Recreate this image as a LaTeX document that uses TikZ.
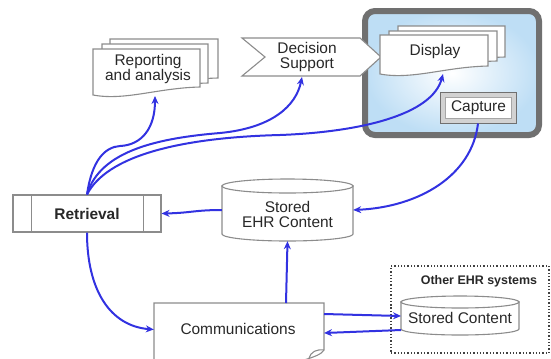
\documentclass[tikz,border=0pt]{standalone}
\usepackage{fontspec}
\setmainfont{Liberation Sans}
\usetikzlibrary{arrows.meta,calc}
\definecolor{flow}{RGB}{50,50,225}
\definecolor{shapegray}{RGB}{140,140,140}
\definecolor{txt}{RGB}{40,40,40}
\definecolor{panelblue}{RGB}{190,222,245}
\definecolor{paneledge}{RGB}{112,112,112}
\tikzset{
 shapeline/.style={draw=shapegray, line width=1.1bp, fill=white},
 txtnode/.style={text=txt, font=\fontsize{15.5}{15.5}\selectfont, align=center, inner sep=0pt},
 flowline/.style={draw=flow, line width=2bp, -{Stealth[length=8bp,width=7bp]}},
 holder/.style={inner sep=0pt, draw=none},
}
% document shape: x1, ytop, x2, y right bottom, y left bottom
\newcommand{\docshape}[5]{%
 \filldraw[shapeline] (#1,#2) -- (#3,#2) -- (#3,#4)
 .. controls ({#3-0.4*(#3-#1)},{#4+1}) and ({#1+0.3*(#3-#1)},{#5+6}) .. (#1,#5) -- cycle;}
% cylinder: left, right, top, bottom, ry
\newcommand{\cyl}[5]{%
 \filldraw[shapeline] (#1,{#3+#5}) -- (#1,{#4-#5})
 .. controls (#1,{#4-#5+0.5523*#5}) and ({(#1+#2)/2-0.5523*(#2-#1)/2},#4) .. ({(#1+#2)/2},#4)
 .. controls ({(#1+#2)/2+0.5523*(#2-#1)/2},#4) and (#2,{#4-#5+0.5523*#5}) .. (#2,{#4-#5})
 -- (#2,{#3+#5}) -- cycle;
 \filldraw[shapeline] ({(#1+#2)/2},{#3+#5}) ellipse [x radius={(#2-#1)/2}, y radius=#5];}
\begin{document}
\begin{tikzpicture}[x=1bp,y=-1bp]
\useasboundingbox (0,0) rectangle (551,358);
\clip (0,0) rectangle (551,358);
% display panel
\shade[rounded corners=10bp, inner color=white, outer color=panelblue] (365,11) rectangle (539,135);
\draw[paneledge, line width=6bp, rounded corners=10bp] (365,11) rectangle (539,135);
% decision support
\filldraw[shapeline] (242,38) -- (360,38) -- (381,57) -- (360,76) -- (242,76) -- (265,57) -- cycle;
\node[txtnode] (dec) at (307,57) {Decision\\Support};
% display documents
\docshape{398}{26}{505}{57}{62}
\docshape{389}{31}{497}{61}{66}
\docshape{380}{35}{488}{66}{74}
\node[txtnode] (disp) at (435,52) {Display};
% capture button
\node[holder, draw=paneledge, fill=gray!35, line width=1bp, minimum width=76bp, minimum height=31bp] (cap) at (478,107.5) {};
\node[txtnode, draw=gray!70, fill=white, line width=0.8bp, minimum width=66bp, minimum height=21bp] (capin) at (478.5,107.5) {Capture};
% reporting documents
\docshape{110}{39}{218}{78}{84}
\docshape{102}{44}{208}{83}{89}
\docshape{93}{49}{200}{87}{95}
\node[txtnode] (rep) at (148,69) {Reporting\\and analysis};
% retrieval
\node[txtnode, shapeline, minimum width=148bp, minimum height=37bp] (ret) at (87,213.5) {\bfseries Retrieval};
\draw[shapegray, line width=1.1bp] ($(ret.north west)+(19,0)$) -- ($(ret.south west)+(19,0)$)
 ($(ret.north east)+(-18,0)$) -- ($(ret.south east)+(-18,0)$);
% stored EHR content
\node[holder, minimum width=131bp, minimum height=62bp] (ehr) at (287.5,210) {};
\cyl{222}{353}{179}{241}{7}
\node[txtnode] (ehrtxt) at (287.5,214.5) {Stored\\EHR Content};
% communications
\node[holder, minimum width=170bp, minimum height=53bp] (comm) at (239,329.5) {};
\filldraw[shapeline] (154,362) -- (154,303) -- (324,303) -- (324,350)
 .. controls (322,354) and (314,357) .. (304,360) -- (304,362) -- cycle;
\draw[shapeline, fill=none] (324,350) .. controls (316,349) and (311,352) .. (309,358);
\node[txtnode] (commtxt) at (238,329) {Communications};
% other EHR systems
\node[holder, draw=black!75, dotted, line width=1.3bp, minimum width=158bp, minimum height=87bp] (oth) at (470,309.5) {};
\node[txtnode, font=\fontsize{12.5}{13}\selectfont\bfseries] (othtxt) at (479,281) {Other EHR systems};
\node[holder, minimum width=118bp, minimum height=39bp] (sc) at (460,315.5) {};
\cyl{401}{519}{296}{335}{6}
\node[txtnode] (sctxt) at (460,318) {Stored Content};
% connector end points
\coordinate (repin) at (155,96);
\coordinate (decin) at (302,77);
\coordinate (dispin) at (443,74);
\coordinate (commtop) at (286,303);
\coordinate (commR1) at (324,314);
\coordinate (scL1) at (401,316);
\coordinate (scL2) at (401,330);
\coordinate (commR2) at (324,333);
% connectors
\draw[flowline] (cap.south) .. controls (472,175) and (420,207) .. (ehr.east);
\draw[flowline] (ehr.west) .. controls (195,210) and (190,213) .. (ret.east);
\draw[flowline] (commtop) -- (ehr.south);
\draw[flowline] (ret.south) .. controls (87,290) and (110,326) .. (comm.west);
\draw[flowline] (commR1) -- (scL1);
\draw[flowline] (scL2) -- (commR2);
\draw[flowline] (ret.north) .. controls (92,160) and (105,147) .. (120,146) .. controls (142,145) and (155,128) .. (repin);
\draw[flowline] (ret.north) .. controls (100,150) and (160,138) .. (220,133) .. controls (272,128) and (296,106) .. (decin);
\draw[flowline] (ret.north) .. controls (110,150) and (200,137) .. (280,135) .. controls (360,132) and (432,115) .. (dispin);
\end{tikzpicture}
\end{document}
